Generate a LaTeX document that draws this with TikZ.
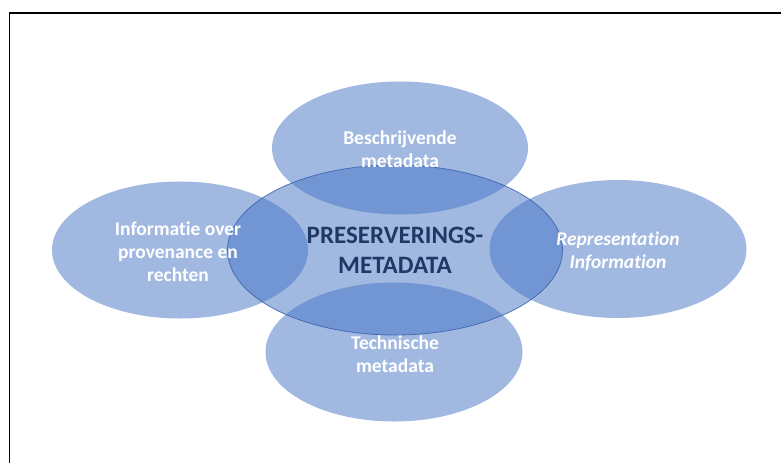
\documentclass[tikz,border=0pt]{standalone}
\usepackage{fontspec}
\setmainfont[Ligatures=NoCommon]{Carlito}
\usetikzlibrary{shapes.geometric}
\definecolor{petal}{HTML}{4472C4}
\definecolor{rim}{HTML}{3A63AD}
\definecolor{navy}{HTML}{1F3864}
\begin{document}
\begin{tikzpicture}[x=1pt,y=-1pt,
  petalshape/.style={ellipse,inner sep=0pt,fill=petal,fill opacity=0.5,draw=none},
  coreshape/.style={ellipse,inner sep=0pt,fill=petal,fill opacity=0.5,draw=rim,draw opacity=0.85,line width=0.8pt},
  petaltext/.style={align=center,text=white,font=\fontsize{19.5}{23}\selectfont\bfseries},
  coretext/.style={align=center,text=navy,font=\fontsize{25}{30}\selectfont\bfseries}]
  \useasboundingbox (0,0) rectangle (781,463);
  % outer frame
  \draw[line width=1.8pt,black] (9.5,463) -- (9.5,13) -- (781,13);
  % petals and core
  \node[petalshape,minimum width=256pt,minimum height=133pt] (top) at (400,148) {};
  \node[petalshape,minimum width=256pt,minimum height=137pt] (left) at (180,250) {};
  \node[petalshape,minimum width=257pt,minimum height=138pt] (right) at (618,249) {};
  \node[petalshape,minimum width=257pt,minimum height=139pt] (bottom) at (394,352) {};
  \node[coreshape,minimum width=335pt,minimum height=170pt] (core) at (395,250) {};
  % labels (yshift is a plain length, so negative values move text down)
  \node[petaltext] (ttop) at ([yshift=-1pt]top.center) {Beschrijvende\\metadata};
  \node[petaltext] (tleft) at ([xshift=-2pt,yshift=-2pt]left.center) {Informatie over\\provenance en\\rechten};
  \node[petaltext,font=\fontsize{19.5}{23}\selectfont\bfseries\itshape] (tright) at ([yshift=-2pt]right.center) {Representation\\Information};
  \node[petaltext] (tbottom) at ([xshift=1pt,yshift=-2pt]bottom.center) {Technische\\metadata};
  \node[coretext] (tcore) at (core.center) {PRESERVERINGS-\\METADATA};
\end{tikzpicture}
\end{document}
